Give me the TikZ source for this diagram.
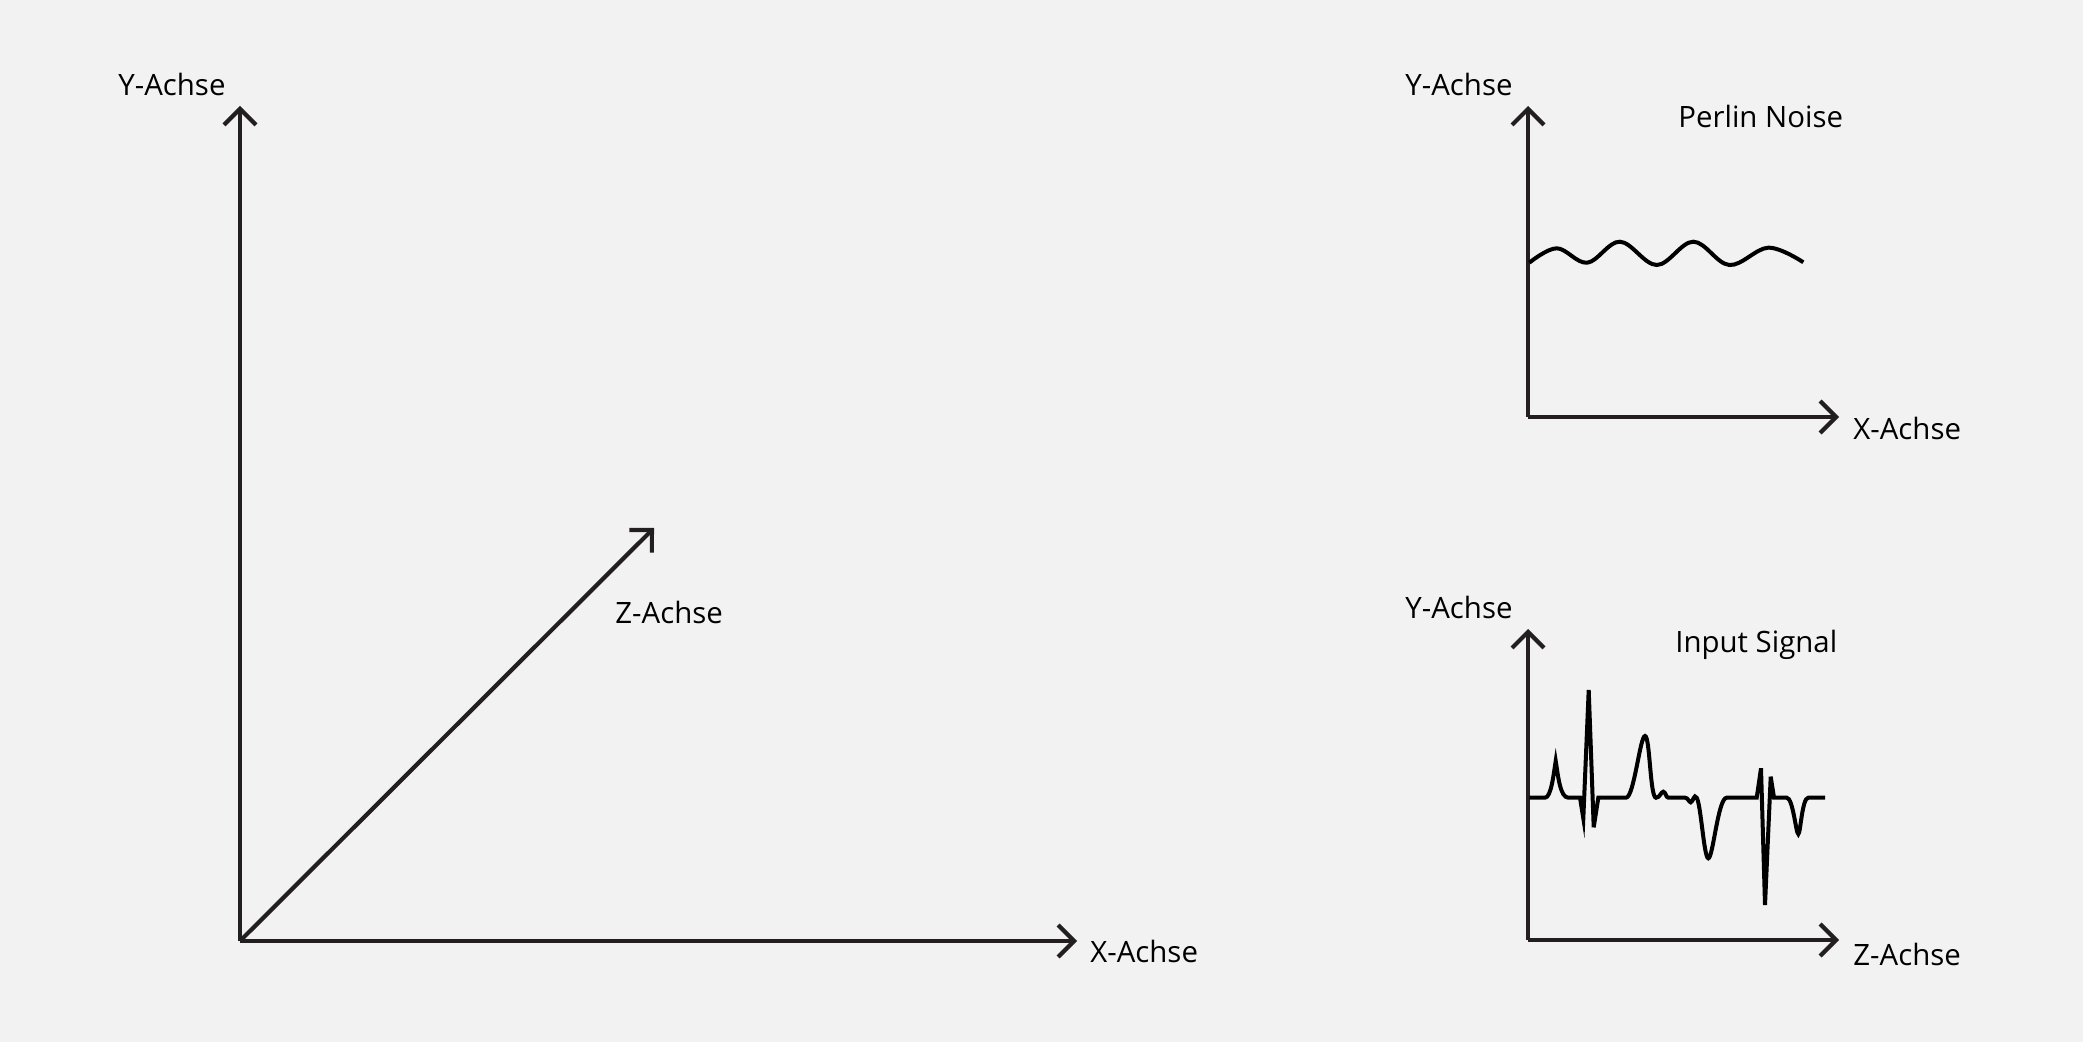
\documentclass[tikz,border=0pt]{standalone}
\usepackage{fontspec}
\setmainfont{Open Sans}
\usetikzlibrary{arrows.meta}
\definecolor{bg}{HTML}{F2F2F2}
\definecolor{axisc}{HTML}{231F20}
\tikzset{
  axisline/.style={draw=axisc, line width=2.1pt, -{Straight Barb[length=8pt,width=16pt,line cap=butt]}},
  lbl/.style={anchor=base west, inner sep=0pt, font=\fontsize{14.7pt}{16pt}\selectfont, text=black},
  sig/.style={draw=black, line width=2pt, line join=miter, line cap=butt}
}
\begin{document}
\begin{tikzpicture}[x=0.5pt,y=-0.5pt]
\fill[bg] (0,0) rectangle (2083,1042);
\useasboundingbox (0,0) rectangle (2083,1042);
% main axes
\coordinate (O) at (240,941);
\coordinate (Ytip) at (240,106);
\coordinate (Xtip) at (1077,941);
\coordinate (Ztip) at (654,528);
\draw[axisline] (O) -- (Ytip);
\draw[axisline] (O) -- (Xtip);
\draw[axisline] (O) -- (Ztip);
\node[lbl] (ylab) at (118,96) {Y-Achse};
\node[lbl] (zlab) at (615,624) {Z-Achse};
\node[lbl] (xlab) at (1090,962) {X-Achse};
% top right plot
\coordinate (O2) at (1528,417);
\coordinate (Y2) at (1528,106);
\coordinate (X2) at (1839,417);
\draw[axisline] (O2) -- (Y2);
\draw[axisline] (O2) -- (X2);
\node[lbl] (y2lab) at (1405,96) {Y-Achse};
\node[lbl] (x2lab) at (1853,440) {X-Achse};
\node[lbl] (perlin) at (1678,128) {Perlin Noise};
\draw[sig] plot[smooth, tension=0.6] coordinates {(1529.3,262.7) (1556.7,248.3) (1587.3,262.7) (1620,241.7) (1656.7,265) (1693.3,241.7) (1729.3,265) (1768.3,247.7) (1803.3,262.3)};
% bottom right plot
\coordinate (O3) at (1528,940);
\coordinate (Y3) at (1528,629);
\coordinate (X3) at (1839,940);
\draw[axisline] (O3) -- (Y3);
\draw[axisline] (O3) -- (X3);
\node[lbl] (y3lab) at (1405,618) {Y-Achse};
\node[lbl] (z3lab) at (1853,965) {Z-Achse};
\node[lbl] (input) at (1675,653) {Input Signal};
\draw[sig] (1529.3,797.7) -- (1545,797.7)
  .. controls (1551,797.7) and (1553.5,775) .. (1555.7,761)
  .. controls (1558,775) and (1560,797.7) .. (1568.3,797.7)
  -- (1580,797.7) -- (1583.3,818.3) -- (1588.7,690) -- (1593.7,827.3) -- (1598.3,797.7)
  -- (1626,797.7)
  .. controls (1634,797.7) and (1640,736) .. (1645,736)
  .. controls (1650,736) and (1650,797.7) .. (1656,797.7)
  .. controls (1660,797.7) and (1661,791.7) .. (1663.3,791.7)
  .. controls (1665.5,791.7) and (1666,797.7) .. (1668.3,797.7)
  -- (1685,797.7)
  .. controls (1688,797.7) and (1689,802.3) .. (1690.7,802.3)
  .. controls (1693,802.3) and (1694,793) .. (1696.7,797.7)
  .. controls (1701,805) and (1704,858.3) .. (1708.3,858.3)
  .. controls (1713,858.3) and (1718,797.7) .. (1726.7,797.7)
  -- (1756.7,797.7) -- (1761,768.3) -- (1765,905) -- (1770.7,776.7) -- (1774,797.7)
  -- (1786.7,797.7)
  .. controls (1793,797.7) and (1796,834) .. (1798.3,834)
  .. controls (1800.5,834) and (1802,797.7) .. (1808.3,797.7)
  -- (1825,797.7);
\end{tikzpicture}
\end{document}
